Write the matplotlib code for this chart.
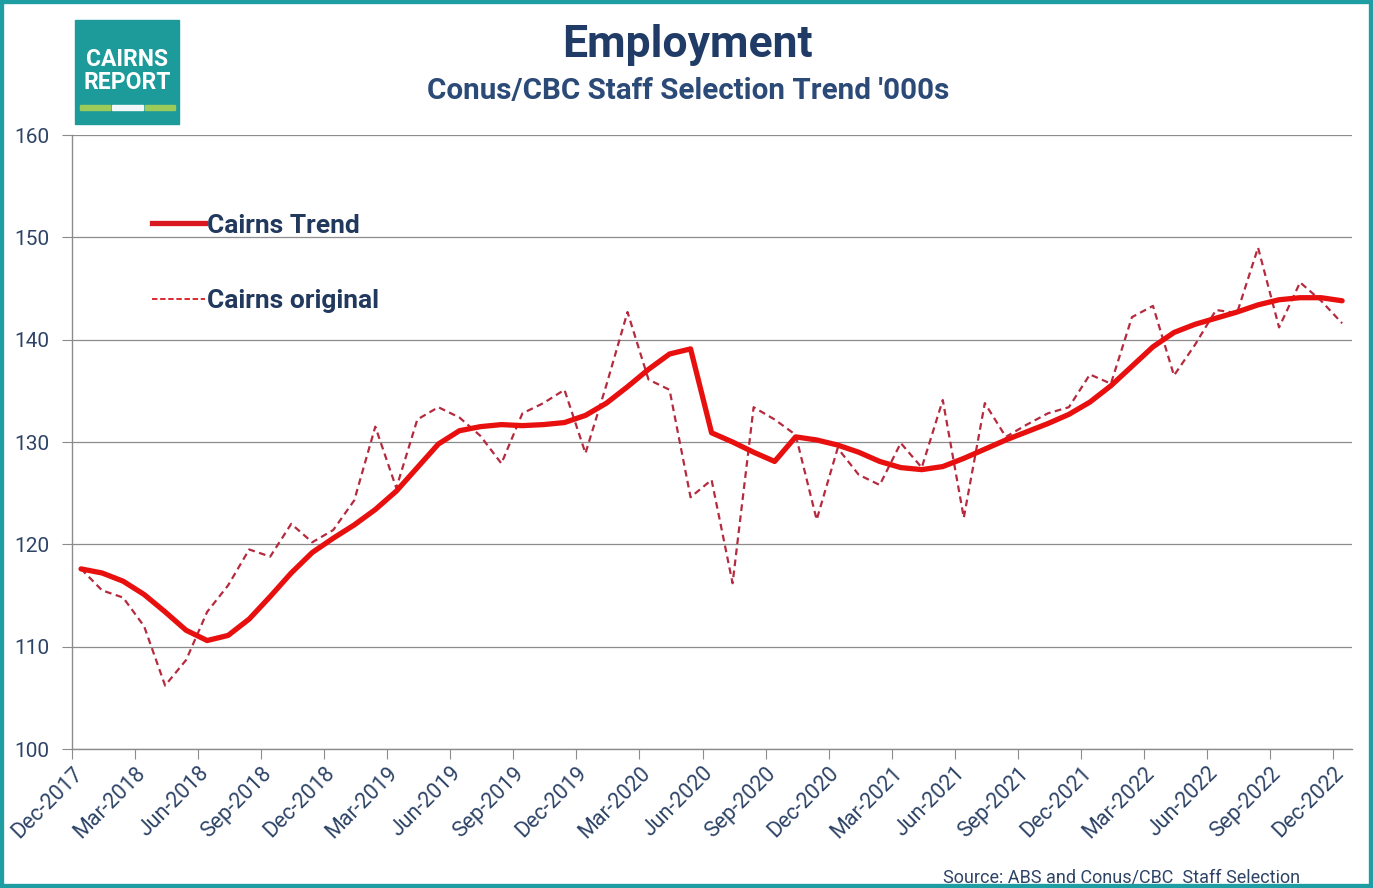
import matplotlib
matplotlib.use('Agg')
import matplotlib.pyplot as plt
from matplotlib.patches import Rectangle
from matplotlib.lines import Line2D
import matplotlib.transforms as mtransforms

plt.rcParams['font.family'] = ['Roboto', 'DejaVu Sans']

# monthly, Dec-2017 .. Dec-2022 (thousands)
trend = [117.6, 117.2, 116.4, 115.1, 113.4, 111.6, 110.6, 111.1, 112.7, 114.9,
         117.2, 119.2, 120.6, 121.9, 123.4, 125.2, 127.5, 129.8, 131.1, 131.5,
         131.7, 131.6, 131.7, 131.9, 132.6, 133.8, 135.4, 137.1, 138.6, 139.1,
         130.9, 130.0, 129.0, 128.1, 130.5, 130.2, 129.7, 129.0, 128.1, 127.5,
         127.3, 127.6, 128.4, 129.3, 130.2, 131.0, 131.8, 132.7, 133.9, 135.5,
         137.4, 139.3, 140.7, 141.5, 142.1, 142.7, 143.4, 143.9, 144.1, 144.1,
         143.8]
original = [117.6, 115.5, 114.8, 112.0, 106.2, 108.7, 113.4, 116.0, 119.5, 118.8,
            122.0, 120.2, 121.4, 124.3, 131.5, 125.5, 132.2, 133.4, 132.4, 130.6,
            127.9, 132.8, 133.8, 135.1, 128.9, 135.6, 142.7, 136.1, 135.1, 124.6,
            126.3, 116.2, 133.4, 132.2, 130.7, 122.4, 129.4, 126.8, 125.8, 129.9,
            127.5, 134.1, 122.6, 133.8, 130.5, 131.7, 132.8, 133.4, 136.6, 135.7,
            142.2, 143.3, 136.5, 139.5, 142.9, 142.6, 149.0, 141.2, 145.6, 143.8,
            141.6]
tick_labels = ['Dec-2017', 'Mar-2018', 'Jun-2018', 'Sep-2018', 'Dec-2018', 'Mar-2019',
               'Jun-2019', 'Sep-2019', 'Dec-2019', 'Mar-2020', 'Jun-2020', 'Sep-2020',
               'Dec-2020', 'Mar-2021', 'Jun-2021', 'Sep-2021', 'Dec-2021', 'Mar-2022',
               'Jun-2022', 'Sep-2022', 'Dec-2022']

navy = '#22395E'
label_col = '#2E4467'
teal = '#1E9EA3'

months = [i + 0.43 for i in range(len(trend))]

fig = plt.figure(figsize=(13.73, 8.88), dpi=100)
ax = fig.add_axes([72 / 1373, 139 / 888, 1280 / 1373, 614 / 888])

ax.plot(months, trend, color='#E8100F', lw=3.8, solid_capstyle='round',
        label='Cairns Trend', zorder=3)
ax.plot(months, original, color='#B52A3E', lw=1.6, linestyle=(0, (3, 2)),
        label='Cairns original', zorder=2)

ax.set_xlim(0, 60.9)
ax.set_ylim(100, 160)
ax.set_yticks(range(100, 161, 10))
ax.set_xticks(range(0, 61, 3))
ax.set_xticklabels(tick_labels, rotation=45, ha='right', va='top',
                   rotation_mode='anchor')
offset = mtransforms.ScaledTranslation(13 / 100, 0, fig.dpi_scale_trans)
for lab in ax.get_xticklabels():
    lab.set_transform(lab.get_transform() + offset)

ax.grid(axis='y', color='#8C8C8C', lw=0.9)
ax.set_axisbelow(True)
for s in ['top', 'right']:
    ax.spines[s].set_visible(False)
for s in ['left', 'bottom']:
    ax.spines[s].set_color('#8C8C8C')
    ax.spines[s].set_linewidth(1.0)
ax.tick_params(axis='both', colors='#8C8C8C', labelcolor=label_col, length=7)
ax.tick_params(axis='y', labelsize=15, pad=9)
ax.tick_params(axis='x', labelsize=15.5, pad=3)

handles = [Line2D([], [], color='#D91820', lw=3.8),
           Line2D([], [], color='#D91820', lw=1.3, linestyle=(0, (3, 1.5)))]
ax.legend(handles, ['Cairns Trend', 'Cairns original'], loc='upper left',
          bbox_to_anchor=(0.0625, 0.872), frameon=False, borderpad=0,
          borderaxespad=0, handlelength=2.0, handletextpad=0.1,
          labelspacing=1.95, labelcolor=navy,
          prop={'weight': 'bold', 'size': 19})

fig.text(0.501, 0.949, 'Employment', ha='center', va='center', fontsize=32,
         fontweight='bold', color='#1F3B66')
fig.text(0.501, 0.898, "Conus/CBC Staff Selection Trend '000s", ha='center',
         va='center', fontsize=21.3, fontweight='bold', color='#2B4A78')
fig.text(1300 / 1373, 1 - 877 / 888, 'Source: ABS and Conus/CBC  Staff Selection',
         ha='right', va='center', fontsize=13, color=label_col)

# logo
fig.patches.append(Rectangle((75 / 1373, 1 - 124 / 888), 104 / 1373, 104 / 888,
                             transform=fig.transFigure, color='#1D9A9A', zorder=1))
fig.text(127 / 1373, 1 - 60 / 888, 'CAIRNS', ha='center', va='center',
         fontsize=16.5, fontweight='bold', color='white')
fig.text(127 / 1373, 1 - 82 / 888, 'REPORT', ha='center', va='center',
         fontsize=16.5, fontweight='bold', color='white')
bar_y = 1 - 110 / 888
for x0, x1, c in [(80, 110, '#9CCB5A'), (112, 143, '#F2F7F7'), (145, 175, '#9CCB5A')]:
    fig.patches.append(Rectangle((x0 / 1373, bar_y), (x1 - x0) / 1373, 5 / 888,
                                 transform=fig.transFigure, color=c, zorder=2))

# frame
fig.patches.append(Rectangle((0, 0), 1, 1, transform=fig.transFigure, fill=False,
                             edgecolor=teal, lw=6, zorder=5))

fig.savefig('out.png', dpi=100)
